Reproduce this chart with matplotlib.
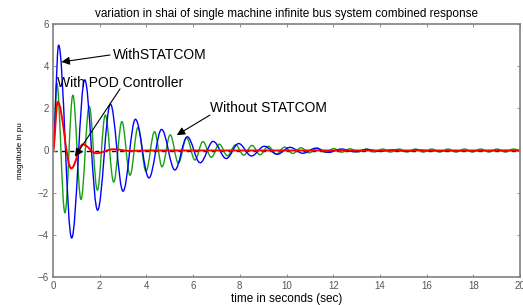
import numpy as np
import matplotlib
matplotlib.use("Agg")
import matplotlib.pyplot as plt
from matplotlib.path import Path
from matplotlib.patches import PathPatch

plt.rcParams['font.family'] = ['Liberation Sans', 'DejaVu Sans']

# ---- data: turning points (time, value) ----
blue_t = [0.0, 0.24, 0.80, 1.36, 1.91, 2.46, 3.00, 3.53, 4.11, 4.65, 5.22, 5.75,
          6.30, 6.86, 7.42, 7.95, 8.50, 9.05, 9.60, 10.15, 10.70, 11.25, 11.80,
          12.35, 12.90, 13.45, 14.00, 14.55, 15.10, 15.65, 16.20, 20.0]
blue_y = [0.0, 5.0, -4.15, 3.35, -2.83, 2.2, -1.93, 1.48, -1.3, 1.0, -0.92, 0.65,
          -0.58, 0.43, -0.38, 0.33, -0.26, 0.2, -0.18, 0.15, -0.13, 0.11, -0.09,
          0.07, -0.06, 0.05, -0.04, 0.03, -0.03, 0.02, -0.015, 0.0]

green_t = [0.0, 0.16, 0.51, 0.85, 1.20, 1.55, 1.90, 2.24, 2.60, 2.95, 3.30, 3.64,
           3.98, 4.35, 4.67, 5.02, 5.37, 5.72, 6.08, 6.42, 6.78, 7.12, 7.47, 7.82,
           8.17, 8.52, 8.87, 9.22, 9.57, 9.92, 10.27, 10.62, 10.97, 11.32, 11.67,
           12.02, 12.37, 12.72, 13.07, 13.42, 13.77, 14.12, 14.47, 14.82, 15.17,
           15.52, 15.87, 16.22, 16.57, 16.92, 17.27, 17.62, 17.97, 18.32, 18.67,
           19.02, 19.37, 19.72, 20.0]
green_y = [0.0, 3.2, -2.95, 2.62, -2.32, 2.1, -1.88, 1.68, -1.5, 1.37, -1.17, 1.1,
           -0.98, 0.89, -0.77, 0.74, -0.6, 0.6, -0.45, 0.42, -0.32, 0.3, -0.25, 0.27,
           -0.22, 0.24, -0.2, 0.2, -0.17, 0.16, -0.14, 0.13, -0.11, 0.11, -0.09,
           0.09, -0.08, 0.08, -0.07, 0.07, -0.07, 0.07, -0.07, 0.07, -0.07,
           0.07, -0.07, 0.07, -0.07, 0.07, -0.07, 0.07, -0.07, 0.07, -0.07,
           0.07, -0.07, 0.07, 0.0]

red_t = [0.0, 0.20, 0.78, 1.28, 1.85, 2.60, 3.30, 4.00, 20.0]
red_y = [0.0, 2.3, -0.85, 0.29, -0.13, 0.06, -0.02, 0.0, 0.0]

xticks = [0, 2, 4, 6, 8, 10, 12, 14, 16, 18, 20]
yticks = [-6, -4, -2, 0, 2, 4, 6]

title = "variation in shai of single machine infinite bus system combined response"
xlabel = "time in seconds (sec)"
ylabel = "magnitude in pu"


def smooth_path(ts, ys):
    """Cubic Bezier path through turning points with flat tangents."""
    k = 0.363
    verts = [(ts[0], ys[0])]
    codes = [Path.MOVETO]
    for i in range(len(ts) - 1):
        t0, t1, y0, y1 = ts[i], ts[i + 1], ys[i], ys[i + 1]
        dt = t1 - t0
        verts += [(t0 + k * dt, y0), (t1 - k * dt, y1), (t1, y1)]
        codes += [Path.CURVE4] * 3
    return Path(verts, codes)


fig = plt.figure(figsize=(5.23, 3.05), dpi=100)
ax = fig.add_axes([53 / 523, 1 - 277 / 305, 467 / 523, 253 / 305])

ax.axhline(0, color='k', ls=(0, (3, 3)), lw=1.0, zorder=1)
for ts, ys, col, lw in [(green_t, green_y, '#16a016', 1.0),
                        (blue_t, blue_y, '#0000ff', 1.0),
                        (red_t, red_y, '#ff0000', 1.4)]:
    ax.add_patch(PathPatch(smooth_path(ts, ys), fill=False, edgecolor=col,
                           lw=lw, zorder=2))

ax.set_xlim(0, 20)
ax.set_ylim(-6, 6)
ax.set_xticks(xticks)
ax.set_yticks(yticks)
ax.tick_params(direction='in', length=2.5, width=0.6, colors='#808080',
               labelcolor='#555555', labelsize=7, top=True, right=True,
               pad=3)
for s in ax.spines.values():
    s.set_color('#808080')
    s.set_linewidth(1.2)

ax.set_title(title, fontsize=8.5, pad=5)
ax.set_xlabel(xlabel, fontsize=8.5, labelpad=1)
ax.set_ylabel(ylabel, fontsize=5.8, labelpad=10)

arrow = dict(arrowstyle='-|>', color='k', lw=0.8, mutation_scale=12,
             shrinkA=0, shrinkB=0)
ax.text(2.57, 4.53, "WithSTATCOM", fontsize=10, va='center', ha='left')
ax.annotate("", xy=(0.36, 4.2), xytext=(2.44, 4.53), arrowprops=arrow)
ax.text(0.17, 3.2, "With POD Controller", fontsize=10, va='center', ha='left')
ax.annotate("", xy=(0.94, -0.29), xytext=(2.87, 2.92), arrowprops=arrow)
ax.text(6.72, 2.0, "Without STATCOM", fontsize=10, va='center', ha='left')
ax.annotate("", xy=(5.3, 0.73), xytext=(6.72, 1.68), arrowprops=arrow)

fig.savefig("out.png", dpi=100)
